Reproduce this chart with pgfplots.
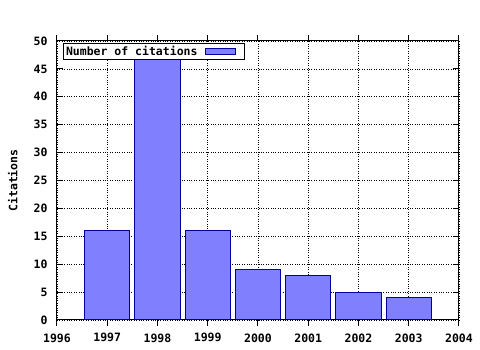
\documentclass[border=0pt]{standalone}
\usepackage{pgfplots}
\pgfplotsset{compat=1.18}
\usepackage{fontspec}
\setmainfont{DejaVu Sans Mono}
\definecolor{barfill}{HTML}{8080FF}
\definecolor{baredge}{HTML}{0000A0}
\begin{document}
\begin{tikzpicture}[x=1pt,y=1pt]
\path (0,0) rectangle (480,350);
\begin{axis}[
  at={(57pt,30pt)}, anchor=south west,
  scale only axis, width=402pt, height=279pt,
  xmin=1996, xmax=2004, ymin=0, ymax=50,
  xtick={1996,...,2004}, ytick={0,5,...,50},
  minor x tick num=3,
  xticklabel style={/pgf/number format/1000 sep={}},
  /pgf/number format/assume math mode=true,
  font=\fontsize{11.5}{13}\selectfont\bfseries,
  tick align=inside, major tick length=6pt, minor tick length=3pt,
  tick style={black, line width=1pt},
  axis line style={black, line width=1pt},
  grid=major, major grid style={black, dotted, line width=0.7pt},
  ylabel={Citations}, ylabel style={at={(-36pt,0.5)}, anchor=south},
  xticklabel style={yshift=-4pt},
  yticklabel style={xshift=-6pt},
  ybar, bar width=0.9, bar shift=0pt,
  legend style={at={(6pt,277pt)}, anchor=north west, draw=black, line width=0.9pt,
    inner sep=1pt, outer sep=0pt, legend cell align=left, fill=white,
    font=\fontsize{11.5}{13}\selectfont\bfseries},
  legend plot pos=right,
  legend image code/.code={\path[draw=none, fill=none] (0pt,0pt) -- (44pt,0pt);
    \draw[fill=barfill, draw=baredge, line width=0.9pt] (6pt,-3pt) rectangle (36pt,3pt);},
]
\addplot[fill=barfill, draw=baredge, line width=1pt] coordinates {
  (1997,16) (1998,47) (1999,16) (2000,9) (2001,8) (2002,5) (2003,4)
};
\addlegendentry{Number of citations}
\end{axis}
\end{tikzpicture}
\end{document}
